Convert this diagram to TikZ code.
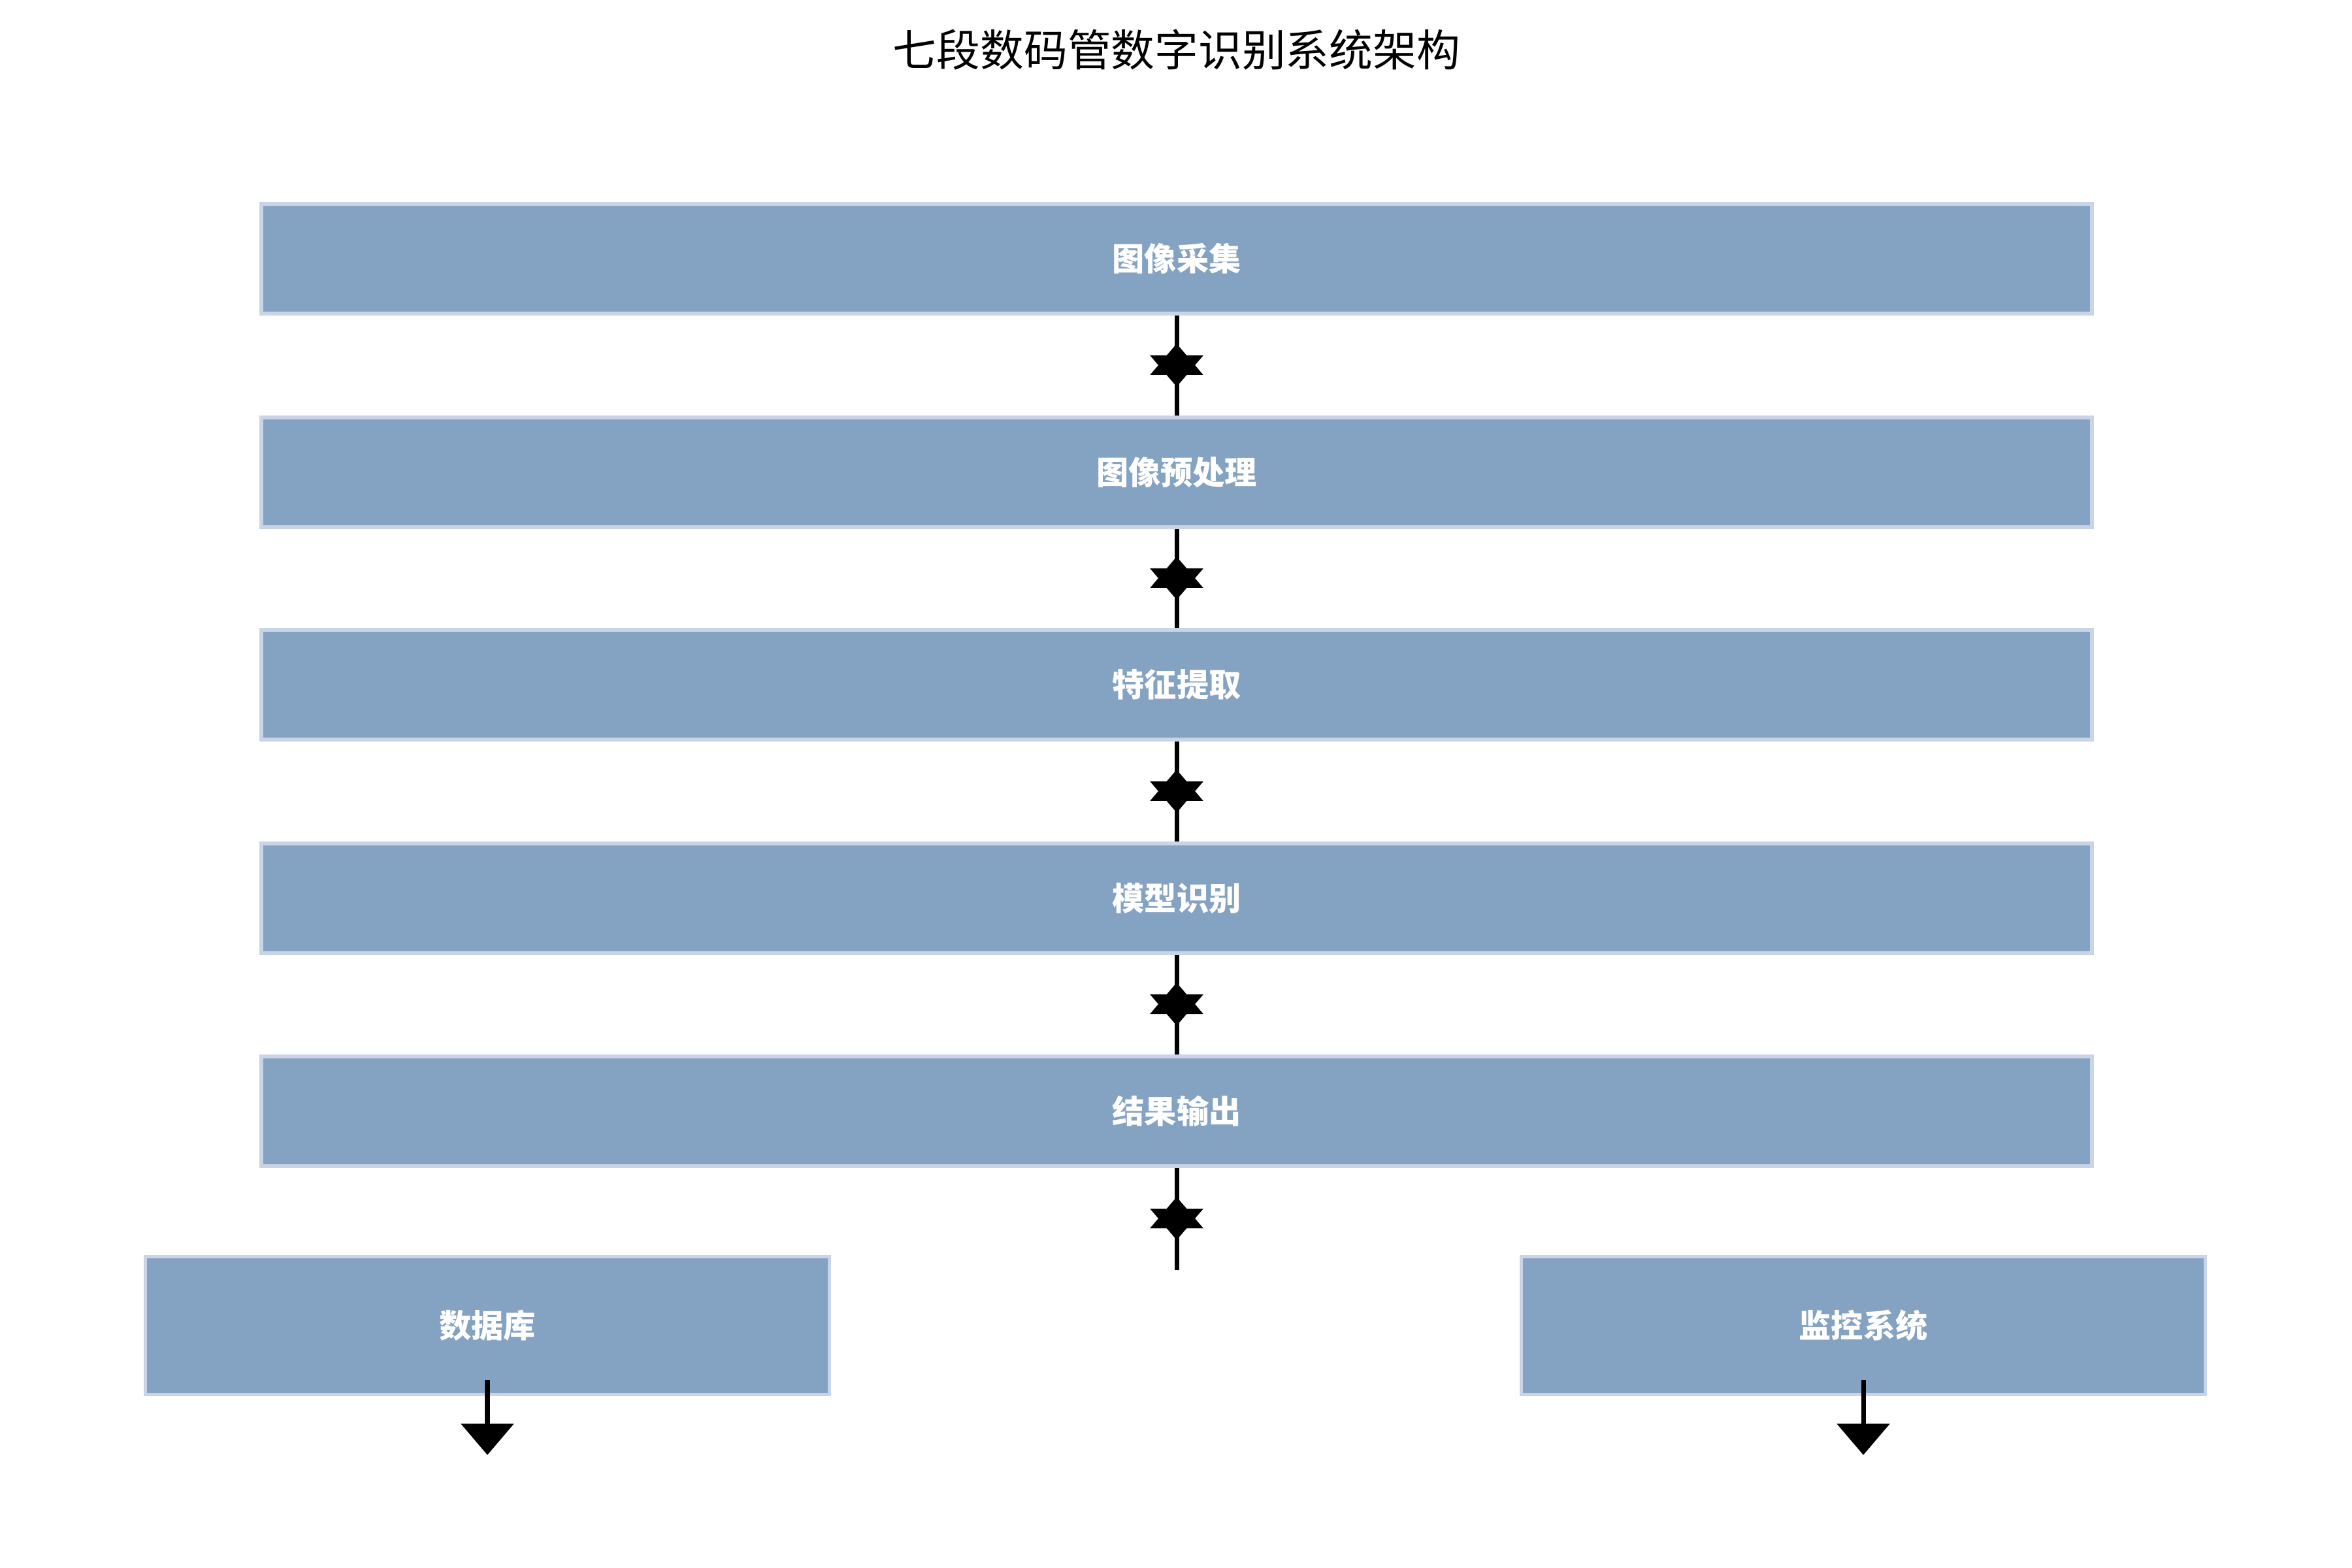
\documentclass[tikz,border=0pt]{standalone}
\usepackage{fontspec}
\newfontfamily\cjk{Noto Sans CJK SC}
\usetikzlibrary{arrows.meta}
\definecolor{boxfill}{HTML}{84A2C2}
\definecolor{boxline}{HTML}{C9D5E6}
\begin{document}
\begin{tikzpicture}
			\tikzset{stage/.style={rectangle, draw=boxline, line width=1.5pt, fill=boxfill, text=white, font=\cjk\bfseries\fontsize{14}{16}\selectfont, minimum width=28.02cm, minimum height=1.68cm, inner sep=0pt},
				sink/.style={stage, minimum width=10.47cm, minimum height=2.11cm},
				link/.style={line width=2pt, -{Triangle[width=0.8cm,length=0.48cm]}}};
			\useasboundingbox (0,0) rectangle (36,-24);
			\node[font=\cjk\fontsize{19}{22}\selectfont] (title) at (18.01,-0.76) {七段数码管数字识别系统架构};
			\node[stage] (acq) at (18.01,-3.96) {图像采集};
			\node[stage] (pre) at (18.01,-7.23) {图像预处理};
			\node[stage] (feat) at (18.01,-10.48) {特征提取};
			\node[stage] (model) at (18.01,-13.75) {模型识别};
			\node[stage] (out) at (18.01,-17.01) {结果输出};
			\node[sink] (db) at (7.46,-20.29) {数据库};
			\node[sink] (mon) at (28.52,-20.29) {监控系统};

			\coordinate (a1) at (18.01,-5.92);
			\coordinate (b1) at (18.01,-5.26);
			\coordinate (a2) at (18.01,-9.18);
			\coordinate (b2) at (18.01,-8.52);
			\coordinate (a3) at (18.01,-12.44);
			\coordinate (b3) at (18.01,-11.78);
			\coordinate (a4) at (18.01,-15.7);
			\coordinate (b4) at (18.01,-15.04);
			\coordinate (a5) at (18.01,-18.98);
			\coordinate (b5) at (18.01,-18.32);
			\coordinate (end) at (18.01,-19.44);

			\draw[link] (acq) -- (a1);
			\draw[link] (pre) -- (b1);
			\draw[link] (pre) -- (a2);
			\draw[link] (feat) -- (b2);
			\draw[link] (feat) -- (a3);
			\draw[link] (model) -- (b3);
			\draw[link] (model) -- (a4);
			\draw[link] (out) -- (b4);
			\draw[link] (out) -- (a5);
			\draw[link] (end) -- (b5);

			\coordinate (dbin) at (7.46,-21.12);
			\coordinate (dbout) at (7.46,-22.27);
			\coordinate (monin) at (28.52,-21.12);
			\coordinate (monout) at (28.52,-22.27);
			\draw[link] (dbin) -- (dbout);
			\draw[link] (monin) -- (monout);
		\end{tikzpicture}
\end{document}
